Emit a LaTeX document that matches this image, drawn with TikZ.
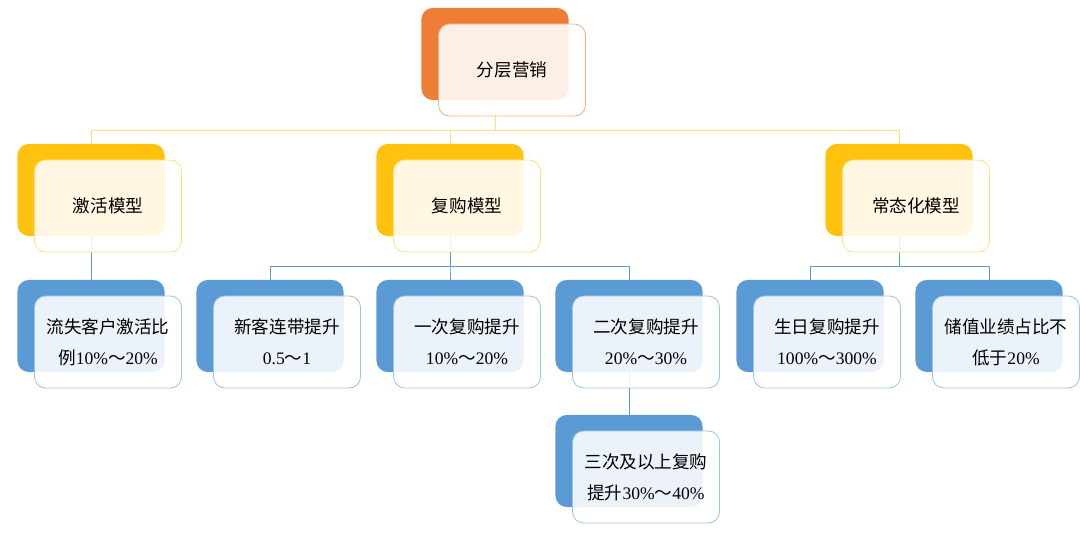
\documentclass[tikz,border=0pt]{standalone}
\usepackage{fontspec}
\setmainfont{Liberation Serif}
\newfontfamily\cjk{Noto Sans CJK SC}
\usepackage{tikz}
\usetikzlibrary{positioning,backgrounds,calc}

\definecolor{orgB}{HTML}{EE7D35}
\definecolor{orgL}{HTML}{F4B183}
\definecolor{ylwB}{HTML}{FFC20E}
\definecolor{ylwL}{HTML}{FFE07A}
\definecolor{bluB}{HTML}{5B9BD5}
\definecolor{bluL}{HTML}{9DC3E6}

\tikzset{
  back/.style={rectangle,rounded corners=8pt,minimum width=3.675cm,minimum height=2.3cm,fill=#1},
  front/.style={rectangle,rounded corners=8pt,minimum width=3.675cm,minimum height=2.3cm,
    draw=#1,line width=0.6pt,fill=white,fill opacity=0.88,text opacity=1,align=center,
    font=\fontsize{12.5}{22}\selectfont},
  link/.style={draw=#1,line width=0.6pt}
}
% back box and front box in one go
\newcommand\blk[5]{%
  \node[back=#4B] (#1b) at (#2,#3) {};
  \node[front=#4L] (#1) at ($(#1b)+(17,16)$) {#5};
}

\begin{document}
\begin{tikzpicture}[x=0.025cm,y=-0.025cm]
  \useasboundingbox (0,0) rectangle (1080,540);
  % 顶层
  \blk{top}{495}{54}{org}{\cjk 分层营销}
  % 第二层
  \blk{act}{91}{190}{ylw}{\cjk 激活模型}
  \blk{rep}{450}{190}{ylw}{\cjk 复购模型}
  \blk{nor}{899}{190}{ylw}{\cjk 常态化模型}
  % 第三层
  \blk{lost}{91}{326}{blu}{{\cjk 流失客户激活比}\\{\cjk 例}10\%{\cjk ～}20\%}
  \blk{new}{270}{326}{blu}{{\cjk 新客连带提升}\\0.5{\cjk ～}1}
  \blk{one}{450}{326}{blu}{{\cjk 一次复购提升}\\10\%{\cjk ～}20\%}
  \blk{two}{629}{326}{blu}{{\cjk 二次复购提升}\\20\%{\cjk ～}30\%}
  \blk{bday}{810}{326}{blu}{{\cjk 生日复购提升}\\100\%{\cjk ～}300\%}
  \blk{val}{989}{326}{blu}{{\cjk 储值业绩占比不}\\{\cjk 低于}20\%}
  % 第四层
  \blk{three}{629}{461}{blu}{{\cjk 三次及以上复购}\\{\cjk 提升}30\%{\cjk ～}40\%}

  \coordinate (busA) at (0,130);
  \coordinate (busB) at (0,266);
  % 连线
  \begin{scope}[on background layer]
    \foreach \n in {actb,repb,norb}
      \draw[link=ylwL] (topb.south) -- (topb.south |- busA) -| (\n.north);
    \foreach \n in {newb,oneb,twob}
      \draw[link=bluB] (repb.south) -- (repb.south |- busB) -| (\n.north);
    \foreach \n in {bdayb,valb}
      \draw[link=bluB] (norb.south) -- (norb.south |- busB) -| (\n.north);
    \draw[link=bluB] (actb.south) -- (lostb.north);
    \draw[link=bluB] (twob.south) -- (threeb.north);
  \end{scope}
\end{tikzpicture}
\end{document}
